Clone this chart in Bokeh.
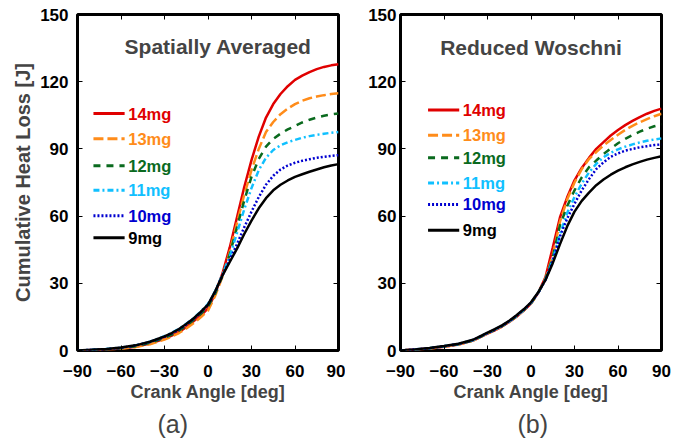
from bokeh.plotting import figure
from bokeh.models import Range1d, LinearAxis, FixedTicker, Label
from bokeh.layouts import row
from bokeh.embed import file_html
from bokeh.resources import INLINE
from bokeh.core.properties import value

# ---------------- data ----------------
crank = [-90, -80, -70, -60, -50, -40, -30, -25, -20, -15, -10, -5, 0, 5, 10,
         15, 20, 25, 30, 35, 40, 45, 50, 55, 60, 65, 70, 75, 80, 85, 90]

series_names = ["14mg", "13mg", "12mg", "11mg", "10mg", "9mg"]

# (a) Spatially Averaged
sa_14 = [0, 0.2, 0.4, 0.9, 1.7, 3.1, 5.2, 6.6, 8.3, 10.4, 13.0, 15.6, 18.8, 25.5, 34.5,
         46.0, 59.5, 73.0, 85.0, 95.5, 104.0, 110.0, 114.5, 118.0, 120.8, 122.7, 124.3, 125.6, 126.6, 127.3, 127.8]
sa_13 = [0, 0.2, 0.4, 0.8, 1.5, 2.8, 4.9, 6.2, 7.8, 9.8, 12.2, 14.8, 17.8, 24.5, 33.0,
         44.0, 57.0, 69.5, 80.5, 90.0, 97.5, 102.0, 105.5, 108.0, 110.0, 111.5, 112.6, 113.4, 114.0, 114.5, 114.8]
sa_12 = [0, 0.2, 0.5, 1.0, 1.9, 3.4, 5.7, 7.1, 8.9, 11.0, 13.6, 16.4, 19.6, 25.5, 33.5,
         43.0, 55.0, 67.0, 77.5, 85.5, 91.0, 94.5, 96.8, 98.7, 100.2, 101.8, 103.0, 104.0, 104.8, 105.4, 105.8]
sa_11 = [0, 0.3, 0.7, 1.3, 2.3, 3.9, 6.4, 7.9, 9.7, 11.9, 14.4, 17.4, 20.8, 26.5, 34.0,
         42.0, 52.5, 63.0, 72.5, 80.5, 86.0, 89.5, 91.6, 93.0, 94.0, 95.0, 95.7, 96.3, 96.8, 97.2, 97.5]
sa_10 = [0, 0.3, 0.6, 1.2, 2.2, 3.8, 6.1, 7.6, 9.4, 11.6, 14.1, 17.0, 20.3, 26.3, 33.5,
         40.5, 47.5, 55.0, 62.0, 68.5, 74.0, 78.0, 80.8, 82.6, 83.8, 84.7, 85.4, 86.0, 86.5, 86.9, 87.2]
sa_9 = [0, 0.3, 0.7, 1.3, 2.3, 3.9, 6.3, 7.8, 9.6, 11.8, 14.3, 17.2, 20.5, 26.5, 33.5,
        39.5, 45.5, 52.0, 58.0, 63.5, 68.0, 71.5, 74.0, 75.9, 77.5, 78.7, 79.8, 80.8, 81.8, 82.6, 83.2]

# (b) Reduced Woschni
rw_14 = [0, 0.4, 0.9, 1.7, 2.7, 4.4, 7.5, 9.0, 10.7, 12.7, 15.1, 17.8, 20.9, 25.8, 32.8,
         46.0, 59.5, 68.5, 76.0, 81.5, 86.0, 90.0, 93.0, 96.0, 98.4, 100.6, 102.5, 104.2, 105.7, 107.0, 108.0]
rw_13 = [0, 0.4, 0.9, 1.7, 2.7, 4.4, 7.6, 9.1, 10.8, 12.8, 15.2, 17.9, 21.0, 25.8, 32.3,
         42.5, 57.5, 67.5, 75.0, 81.0, 85.5, 88.6, 91.5, 94.0, 96.3, 98.5, 100.3, 101.9, 103.3, 104.6, 105.7]
rw_12 = [0, 0.4, 1.0, 1.8, 2.8, 4.5, 7.7, 9.2, 10.9, 12.9, 15.3, 18.0, 21.1, 25.8, 32.0,
         41.5, 56.0, 64.5, 71.5, 77.3, 81.8, 84.8, 87.7, 90.2, 92.5, 94.5, 96.2, 97.7, 99.0, 100.1, 101.0]
rw_11 = [0, 0.4, 1.0, 1.9, 2.9, 4.6, 7.8, 9.3, 11.0, 13.0, 15.4, 18.1, 21.2, 25.8, 31.7,
         40.5, 52.0, 61.5, 68.5, 74.5, 79.5, 83.3, 86.3, 88.3, 89.8, 91.0, 92.0, 92.9, 93.6, 94.2, 94.7]
rw_10 = [0, 0.5, 1.0, 1.9, 2.9, 4.7, 7.8, 9.3, 11.0, 13.1, 15.5, 18.2, 21.3, 25.8, 31.5,
         40.0, 51.0, 59.0, 65.5, 71.5, 76.5, 81.0, 84.0, 86.5, 88.0, 89.2, 90.0, 90.7, 91.2, 91.7, 92.0]
rw_9 = [0, 0.5, 1.1, 2.0, 3.0, 4.8, 8.0, 9.5, 11.2, 13.3, 15.7, 18.4, 21.5, 26.0, 31.5,
        39.0, 47.5, 55.5, 62.0, 66.8, 70.5, 73.8, 76.3, 78.5, 80.3, 81.8, 83.1, 84.2, 85.2, 86.0, 86.7]

x_ticks = [-90, -60, -30, 0, 30, 60, 90]
y_ticks = [0, 30, 60, 90, 120, 150]

# ---------------- styles ----------------
colors = ["#E00000", "#FF8C1A", "#0A6A1E", "#10C0FF", "#0000D0", "#000000"]
dashes = ["solid", "10 4", "7 6", "6 3 2 3", "2 2", "solid"]
FONT = "Liberation Sans"


def style_axis(ax, show_labels=True, standoff=8):
    ax.axis_line_color = None
    ax.major_tick_in = 5
    ax.major_tick_out = 0
    ax.minor_tick_line_color = None
    ax.major_tick_line_color = "black"
    ax.major_tick_line_width = 1
    ax.major_label_text_font = FONT
    ax.major_label_text_font_style = "bold"
    ax.major_label_text_font_size = "17px" if show_labels else "0px"
    ax.major_label_text_color = "black" if show_labels else None
    ax.major_label_standoff = standoff if show_labels else 0


def make_panel(data, title_text, sub, ylabel, width, bl, br, ystand,
               title_xy, leg_x0, leg_x1, leg_tx, leg_rows, sub_offset):
    p = figure(width=width, height=441, output_backend="svg", toolbar_location=None,
               x_range=Range1d(-90, 90), y_range=Range1d(0, 150),
               min_border_left=bl, min_border_right=br, min_border_top=14,
               min_border_bottom=91, title=sub, title_location="below")
    p.xgrid.visible = False
    p.ygrid.visible = False
    p.outline_line_color = "black"
    p.outline_line_width = 3
    p.background_fill_color = "white"
    p.border_fill_color = "white"

    p.xaxis.ticker = FixedTicker(ticks=x_ticks)
    p.yaxis.ticker = FixedTicker(ticks=y_ticks)
    for ax in p.xaxis:
        style_axis(ax, True, 14)
    for ax in p.yaxis:
        style_axis(ax, True, ystand)
    p.xaxis.axis_label = "Crank Angle [deg]"
    p.xaxis.axis_label_text_font = FONT
    p.xaxis.axis_label_text_font_style = "bold"
    p.xaxis.axis_label_text_font_size = "18px"
    p.xaxis.axis_label_standoff = 2
    if ylabel:
        p.yaxis.axis_label = ylabel
        p.yaxis.axis_label_text_font = FONT
        p.yaxis.axis_label_text_font_style = "bold"
        p.yaxis.axis_label_text_font_size = "20px"
        p.yaxis.axis_label_standoff = 3

    top = LinearAxis(ticker=FixedTicker(ticks=x_ticks))
    style_axis(top, False)
    p.add_layout(top, "above")
    right = LinearAxis(ticker=FixedTicker(ticks=y_ticks))
    style_axis(right, False)
    p.add_layout(right, "right")

    p.title.align = "left"
    p.title.text_font = FONT
    p.title.text_font_style = "normal"
    p.title.text_font_size = "25px"
    p.title.standoff = 6
    p.title.offset = sub_offset

    for name, ys, c, d in zip(series_names, data, colors, dashes):
        p.line(crank, ys, line_color=c, line_width=2.5, line_dash=d)

    # legend (manual, coloured labels)
    for name, ly, c, d in zip(series_names, leg_rows, colors, dashes):
        p.line([leg_x0, leg_x1], [ly, ly], line_color=c, line_width=3, line_dash=d)
        p.text(x=[leg_tx], y=[ly], text=[name], text_color=c, text_font=value(FONT),
               text_font_style="bold", text_font_size="16.5px", text_baseline="middle")

    p.add_layout(Label(x=title_xy[0], y=title_xy[1], text=title_text, text_font=FONT,
                       text_font_style="bold", text_font_size="21px", text_align="center",
                       text_baseline="alphabetic"))
    return p


p1 = make_panel([sa_14, sa_13, sa_12, sa_11, sa_10, sa_9], "Spatially Averaged", "(a)",
                "Cumulative Heat Loss [J]", 345, 77, 7, 9,
                (7, 135.8), -79, -57.5, -55, [105.8, 94.5, 82.5, 71.5, 60.2, 50.3], 80)
p2 = make_panel([rw_14, rw_13, rw_12, rw_11, rw_10, rw_9], "Reduced Woschni", "(b)",
                None, 330, 55, 14, 4,
                (0, 135.3), -71, -49.5, -47, [107.4, 96.1, 86.1, 74.8, 65.2, 53.7], 117)

layout = row(p1, p2)
open("out.html", "w").write(file_html(layout, INLINE))
